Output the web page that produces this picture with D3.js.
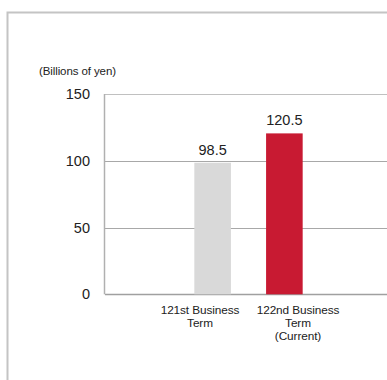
<!DOCTYPE html>
<html>
<head>
<meta charset="utf-8">
<script src="https://cdn.jsdelivr.net/npm/d3@7"></script>
<style>
  html, body { margin: 0; padding: 0; background: #fff; }
  svg { display: block; font-family: "Liberation Sans", Arial, sans-serif; }
</style>
</head>
<body>
<svg id="chart" width="387" height="380"></svg>
<script>
// Net sales by business term
const categories = ["121st Business Term", "122nd Business Term (Current)"];
const categoryLines = [["121st Business", "Term"], ["122nd Business", "Term", "(Current)"]];
const values = [98.5, 120.5];
const barColors = ["#d9d9d9", "#c81a32"];
const yTicks = [0, 50, 100, 150];
const unitLabel = "(Billions of yen)";

const svg = d3.select("#chart");

// Outer panel frame (top and left edges)
svg.append("path")
  .attr("d", "M7.5,380 V12.5 H387")
  .attr("fill", "none")
  .attr("stroke", "#c4c4c4")
  .attr("stroke-width", 2);

const plot = { left: 105, right: 392, top: 94, bottom: 294.3 };
const step = (plot.right - plot.left) / 4;

const y = d3.scaleLinear().domain([0, 150]).range([plot.bottom, plot.top]);
const x = d3.scaleBand()
  .domain(categories)
  .range([plot.left + step, plot.left + step * 3])
  .paddingInner(0.49)
  .paddingOuter(0.245);
const labelX = d3.scalePoint().domain(categories).range([200, 298]);

// Gridlines
svg.append("g")
  .selectAll("line")
  .data(yTicks)
  .join("line")
  .attr("x1", plot.left)
  .attr("x2", 387)
  .attr("y1", d => Math.round(y(d)) + 0.5)
  .attr("y2", d => Math.round(y(d)) + 0.5)
  .attr("stroke", d => d === 0 ? "#a0a0a0" : (d === 150 ? "#c0c0c0" : "#a8a8a8"))
  .attr("stroke-width", d => d === 0 ? 1.5 : 1);

// Vertical axis line
svg.append("line")
  .attr("x1", plot.left - 0.5).attr("x2", plot.left - 0.5)
  .attr("y1", y(150)).attr("y2", y(0))
  .attr("stroke", "#b0b0b0")
  .attr("stroke-width", 1.5);

// Y tick labels
svg.append("g")
  .selectAll("text")
  .data(yTicks)
  .join("text")
  .attr("x", 90)
  .attr("y", d => y(d) + 5)
  .attr("text-anchor", "end")
  .attr("font-size", 14.5)
  .attr("fill", "#222")
  .text(d => d);

// Unit label
svg.append("text")
  .attr("x", 39)
  .attr("y", 75)
  .attr("font-size", 11.5)
  .attr("letter-spacing", -0.1)
  .attr("fill", "#222")
  .text(unitLabel);

// Bars
svg.append("g")
  .selectAll("rect")
  .data(values)
  .join("rect")
  .attr("x", (d, i) => x(categories[i]))
  .attr("width", x.bandwidth())
  .attr("y", d => y(d))
  .attr("height", d => y(0) - y(d))
  .attr("fill", (d, i) => barColors[i]);

// Value labels
svg.append("g")
  .selectAll("text")
  .data(values)
  .join("text")
  .attr("x", (d, i) => x(categories[i]) + x.bandwidth() / 2)
  .attr("y", d => y(d) - 8)
  .attr("text-anchor", "middle")
  .attr("font-size", 14.5)
  .attr("fill", "#222")
  .text(d => d.toFixed(1));

// Category labels
const cat = svg.append("g")
  .selectAll("text")
  .data(categories)
  .join("text")
  .attr("x", d => labelX(d))
  .attr("y", 314)
  .attr("text-anchor", "middle")
  .attr("font-size", 11.8)
  .attr("letter-spacing", -0.1)
  .attr("fill", "#222");
cat.selectAll("tspan")
  .data((d, i) => categoryLines[i].map(t => ({ t, x: labelX(d) })))
  .join("tspan")
  .attr("x", d => d.x)
  .attr("dy", (d, j) => j === 0 ? 0 : 13.2)
  .text(d => d.t);
</script>
</body>
</html>
